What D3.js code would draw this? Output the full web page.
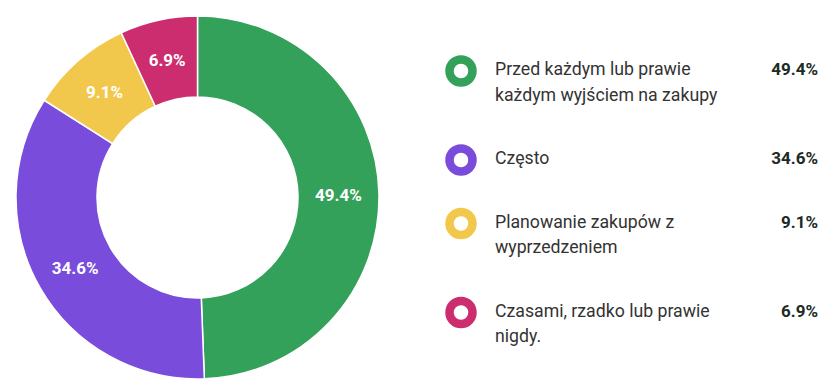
<!DOCTYPE html>
<html>
<head>
<meta charset="utf-8">
<script src="https://cdn.jsdelivr.net/npm/d3@7"></script>
<style>
  body { margin: 0; background: #fff; }
  svg { display: block; font-family: Roboto, "Noto Sans", sans-serif; }
</style>
</head>
<body>
<div id="chart"></div>
<script>
var categories = [
    "Przed każdym lub prawie każdym wyjściem na zakupy",
    "Często",
    "Planowanie zakupów z wyprzedzeniem",
    "Czasami, rzadko lub prawie nigdy."
];
var values = [49.4, 34.6, 9.1, 6.9];
var colors = ["#34a15a", "#7a4cdc", "#f2c84c", "#cc2d6e"];

function init() {
    var w = 837;
    var h = 387;
    var cx = 197.5, cy = 197.5;
    var outerR = 181.5, innerR = 100.5;

    var svg = d3.select("#chart")
        .append("svg")
        .attr("width", w)
        .attr("height", h);

    var data = categories.map(function(c, i) {
        return { label: c, value: values[i], color: colors[i] };
    });

    var pie = d3.pie()
        .sort(null)
        .value(function(d) { return d.value; });

    var arc = d3.arc()
        .innerRadius(innerR)
        .outerRadius(outerR);

    var labelArc = d3.arc()
        .innerRadius(141)
        .outerRadius(141);

    var g = svg.append("g")
        .attr("transform", "translate(" + cx + "," + cy + ")");

    var arcs = pie(data);

    g.selectAll("path")
        .data(arcs)
        .enter()
        .append("path")
        .attr("d", arc)
        .attr("fill", function(d) { return d.data.color; })
        .attr("stroke", "#fff")
        .attr("stroke-width", 1.5);

    g.selectAll("text.slice")
        .data(arcs)
        .enter()
        .append("text")
        .attr("class", "slice")
        .attr("transform", function(d) { return "translate(" + labelArc.centroid(d) + ")"; })
        .attr("text-anchor", "middle")
        .attr("dy", "0.36em")
        .attr("fill", "#fff")
        .attr("font-size", "17px")
        .attr("font-weight", "bold")
        .text(function(d) { return d.value.toFixed ? d.value.toFixed(1) + "%" : d.data.value.toFixed(1) + "%"; });

    // legend
    var lineH = 25.5, gap = 38, maxW = 240;
    var textX = 495, markX = 461, valX = 818;
    var y = 75;

    data.forEach(function(d) {
        var item = svg.append("g");

        var text = item.append("text")
            .attr("x", textX)
            .attr("y", y)
            .attr("font-size", "17.7px")
            .attr("fill", "#333");

        // wrap words into lines
        var words = d.label.split(" ");
        var line = [];
        var tspan = text.append("tspan").attr("x", textX).attr("y", y);
        var lines = 1;
        words.forEach(function(word) {
            line.push(word);
            tspan.text(line.join(" "));
            if (tspan.node().getComputedTextLength() > maxW && line.length > 1) {
                line.pop();
                tspan.text(line.join(" "));
                line = [word];
                tspan = text.append("tspan")
                    .attr("x", textX)
                    .attr("y", y + lines * lineH)
                    .text(word);
                lines++;
            }
        });

        item.append("circle")
            .attr("cx", markX)
            .attr("cy", y - 4)
            .attr("r", 11.5)
            .attr("fill", "none")
            .attr("stroke", d.color)
            .attr("stroke-width", 8.5);

        item.append("text")
            .attr("x", valX)
            .attr("y", y)
            .attr("text-anchor", "end")
            .attr("font-size", "17px")
            .attr("font-weight", "bold")
            .attr("fill", "#1d2b25")
            .text(d.value.toFixed(1) + "%");

        y += lines * lineH + gap;
    });
}
window.onload = init;
</script>
</body>
</html>
